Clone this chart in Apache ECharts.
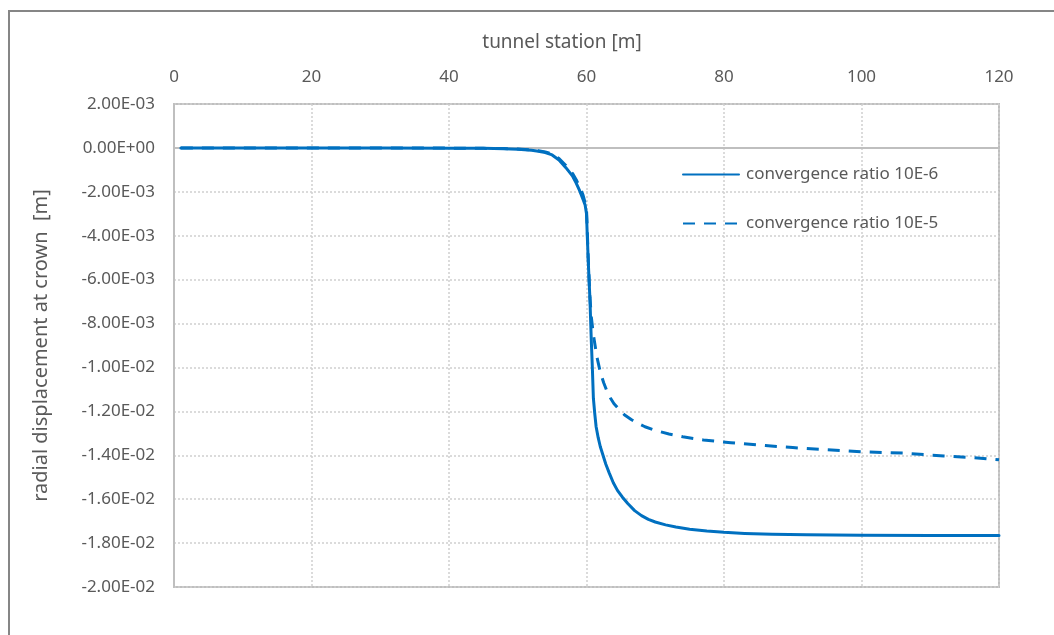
<!DOCTYPE html>
<html>
<head>
<meta charset="utf-8">
<script src="https://cdn.jsdelivr.net/npm/echarts@6/dist/echarts.min.js"></script>
<style>
  html, body { margin: 0; padding: 0; background: #ffffff; }
  #chart { width: 1054px; height: 635px; }
</style>
</head>
<body>
<div id="chart"></div>
<script>
// Radial displacement at the crown along the tunnel, for two solver convergence ratios.
const seriesNames = ['convergence ratio 10E-6', 'convergence ratio 10E-5'];

// tunnel station [m]
const stationFine = [1, 10, 20, 30, 40, 45, 48, 50, 52, 53, 54, 55, 56, 57, 58, 58.5, 59, 59.5, 59.8, 60,
  60.1, 60.3, 60.5, 60.7, 60.85, 61, 61.2, 61.4, 61.7, 62, 62.4, 62.8, 63.3, 63.9, 64.5, 65.2, 66, 67, 68,
  69, 70, 71.5, 73, 75, 77.5, 80, 83, 87, 92, 100, 110, 120];
// radial displacement [m], convergence ratio 10E-6
const dispFine = [0, 0, 0, 0, -0.00001, -0.00002, -0.00004, -0.00006, -0.00011, -0.00015, -0.00021, -0.00032,
  -0.00055, -0.00090, -0.00130, -0.00160, -0.00195, -0.00235, -0.0026, -0.0030,
  -0.0039, -0.0055, -0.0069, -0.0088, -0.0100, -0.0114, -0.0121, -0.0127, -0.0132, -0.0136, -0.0140, -0.0144,
  -0.0148, -0.01525, -0.0156, -0.0159, -0.0162, -0.01652, -0.01675,
  -0.01692, -0.01704, -0.01717, -0.01727, -0.01737, -0.01745, -0.01751, -0.01756, -0.0176, -0.01762,
  -0.01764, -0.01765, -0.01765];

// tunnel station [m]
const stationCoarse = [1, 10, 20, 30, 40, 45, 48, 50, 52, 53, 54, 55, 56, 57, 58, 58.5, 59, 59.5, 59.8, 60,
  60.1, 60.2, 60.3, 60.5, 60.7, 61, 61.5, 62, 62.5, 63, 63.5, 64, 64.7, 65.5, 66.5, 67.5, 68.5, 70, 72, 74,
  77, 81, 86, 90, 95, 100, 106, 112, 116, 120];
// radial displacement [m], convergence ratio 10E-5
const dispCoarse = [0, 0, 0, 0, -0.00001, -0.00002, -0.00003, -0.00005, -0.00009, -0.00013, -0.00018, -0.00028,
  -0.00048, -0.00080, -0.00118, -0.00145, -0.00178, -0.00215, -0.0025, -0.0028,
  -0.0036, -0.0046, -0.0054, -0.0068, -0.0077, -0.0085, -0.0095, -0.0102, -0.0107, -0.0111, -0.0114, -0.01165,
  -0.0119, -0.01215, -0.01237, -0.01255, -0.0127, -0.01287, -0.01303, -0.01316,
  -0.0133, -0.01343, -0.01356, -0.01365, -0.01375, -0.01384, -0.0139, -0.01403, -0.0141, -0.0142];

const xAxisTitle = 'tunnel station [m]';
const yAxisTitle = 'radial displacement at crown  [m]';

const pair = (xs, ys) => xs.map((x, i) => [x, ys[i]]);

// Excel-style scientific labels: 2.00E-03, 0.00E+00, -1.80E-02
function sci(v) {
  if (Math.abs(v) < 1e-12) v = 0;
  const s = v.toExponential(2);
  const [m, e] = s.split('e');
  const sign = e[0] === '-' ? '-' : '+';
  const digits = e.replace(/^[+-]/, '').padStart(2, '0');
  return m + 'E' + sign + digits;
}

const textColor = '#595959';
const font = '"Noto Sans", "Open Sans", sans-serif';
const lineBlue = '#0070C0';
const gridDots = { color: '#d0d0d0', width: 1.5, type: [2, 2] };

const chart = echarts.init(document.getElementById('chart'), null, { renderer: 'canvas' });

chart.setOption({
  backgroundColor: '#ffffff',
  animation: false,
  textStyle: { fontFamily: font, color: textColor },
  graphic: [
    {
      type: 'rect',
      shape: { x: 9, y: 11, width: 1100, height: 700 },
      style: { fill: 'none', stroke: '#868686', lineWidth: 2 },
      z: 0
    },
    {
      type: 'text',
      x: 562, y: 43,
      style: {
        text: xAxisTitle, fill: textColor, font: '19px ' + font,
        textAlign: 'center', textVerticalAlign: 'middle'
      }
    }
  ],
  grid: {
    left: 174, right: 55, top: 104, bottom: 48,
    show: true, borderColor: '#bfbfbf', borderWidth: 2, backgroundColor: 'transparent'
  },
  legend: {
    orient: 'vertical',
    left: 682, top: 166, padding: 0,
    itemWidth: 56, itemHeight: 14, itemGap: 32,
    itemStyle: { opacity: 0 },
    textStyle: { fontFamily: font, fontSize: 17, color: textColor, padding: [0, 0, 0, 2] },
    data: seriesNames
  },
  xAxis: {
    type: 'value',
    position: 'top',
    min: 0, max: 120, interval: 20,
    axisLine: { show: true, lineStyle: { color: '#bfbfbf', width: 2 } },
    axisTick: { show: false },
    axisLabel: { fontFamily: font, fontSize: 17, color: textColor, margin: 18 },
    splitLine: { show: true, lineStyle: gridDots }
  },
  yAxis: {
    type: 'value',
    min: -0.02, max: 0.002, interval: 0.002,
    name: yAxisTitle,
    nameLocation: 'middle',
    nameGap: 123,
    nameTextStyle: { fontFamily: font, fontSize: 20, color: textColor },
    axisLine: { show: true, lineStyle: { color: '#bfbfbf', width: 2 } },
    axisTick: { show: false },
    axisLabel: { fontFamily: font, fontSize: 17, color: textColor, margin: 19, formatter: sci },
    splitLine: { show: true, lineStyle: gridDots }
  },
  series: [
    {
      name: seriesNames[0],
      type: 'line',
      data: pair(stationFine, dispFine),
      showSymbol: false, symbol: 'none',
      lineStyle: { color: lineBlue, width: 3, type: 'solid', join: 'round', cap: 'round' },
      itemStyle: { color: lineBlue },
      z: 3
    },
    {
      name: seriesNames[1],
      type: 'line',
      data: pair(stationCoarse, dispCoarse),
      showSymbol: false, symbol: 'none',
      lineStyle: { color: lineBlue, width: 3, type: [12, 9], join: 'round' },
      itemStyle: { color: lineBlue },
      z: 3
    }
  ]
});
</script>
</body>
</html>
